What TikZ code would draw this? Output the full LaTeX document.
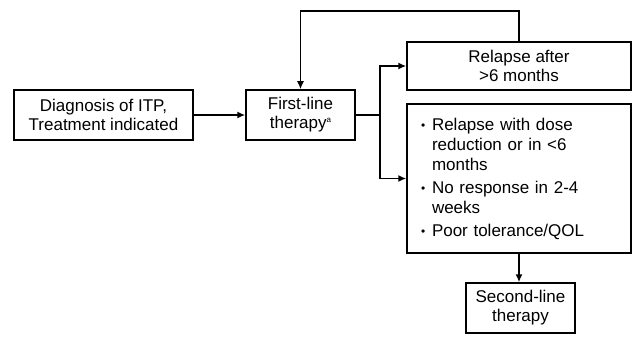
\documentclass[tikz,border=0pt]{standalone}
\usepackage{fontspec}
\usepackage{graphicx}
\setmainfont{Liberation Sans}
\usetikzlibrary{arrows.meta}

\tikzset{
  box/.style={draw, line width=1.5pt, inner sep=0pt, align=center,
    font=\fontsize{17}{19}\selectfont},
  link/.style={line width=1.5pt, -{Latex[length=8pt,width=7pt]}},
}
\newcommand{\itm}{\makebox[11pt][l]{\raisebox{1pt}{\scalebox{0.7}{•}}}}
\newcommand{\hang}{\hspace*{11pt}}

\begin{document}
\begin{tikzpicture}[x=1pt,y=-1pt]
\useasboundingbox (0,0) rectangle (633,337);

\node [box, minimum width=179pt, minimum height=50pt] (diag) at (103.5,115) {Diagnosis of ITP,\\Treatment indicated};
\node [box, minimum width=109pt, minimum height=50pt] (first) at (300.5,115) {First-line\\therapy\raisebox{6pt}{\fontsize{8}{8}\selectfont a}};
\node [box, minimum width=224pt, minimum height=48pt] (relapse) at (519,66) {Relapse after\\>6 months};
\node [box, align=left, text width=196pt, inner xsep=14pt, minimum height=149pt,
  font=\fontsize{17}{20}\selectfont] (noresp) at (519,178.5) {%
  \itm Relapse with dose\\
  \hang reduction or in <6\\
  \hang months\\[3pt]
  \itm No response in 2-4\\
  \hang weeks\\[3pt]
  \itm Poor tolerance/QOL};
\node [box, minimum width=109pt, minimum height=50pt] (second) at (520.5,308) {Second-line\\therapy};

\coordinate (split) at (380,115);

\draw [link] (diag) -- (first);
\draw [line width=1.5pt] (first.east) -- (split);
\draw [link] (split) |- (relapse.west);
\draw [link] (split) |- (noresp.west);
\draw [link] (relapse.north) -- ++(0,-30) -| (first.north);
\draw [link] (noresp.south) -- (noresp.south |- second.north);
\end{tikzpicture}
\end{document}
